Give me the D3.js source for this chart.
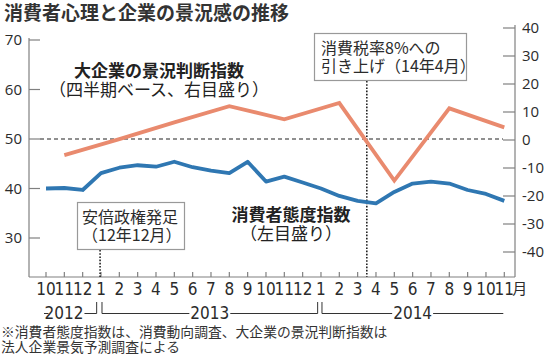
<!DOCTYPE html>
<html><head><meta charset="utf-8">
<script src="https://cdn.jsdelivr.net/npm/d3@7"></script>
<style>
body{margin:0;background:#fff;}
svg{display:block;}
.jp{font-family:"Noto Sans CJK JP","Noto Sans",sans-serif;}
.num{font-family:"Liberation Sans Narrow","DejaVu Sans Condensed","Roboto Condensed","Noto Sans",sans-serif;}
</style>
</head><body>
<svg id="c" width="550" height="359"></svg>
<script>
// ---- data ----
const monthLabels = ["10","11","12","1","2","3","4","5","6","7","8","9","10","11","12","1","2","3","4","5","6","7","8","9","10","11"];
const consumerIndex = [40.0,40.1,39.7,43.1,44.2,44.7,44.4,45.4,44.3,43.6,43.1,45.4,41.4,42.4,41.2,40.0,38.5,37.5,37.0,39.3,41.0,41.4,41.0,39.7,38.9,37.5];
const bsiMonths = [1,4,7,10,13,16,19,22,25];
const bsiValues = [-5.4,0.3,6.3,12.1,7.4,13.2,-14.5,11.3,4.5];
const leftTicks = [30,40,50,60,70];
const rightTicks = [-40,-30,-20,-10,0,10,20,30,40];
const years = [
  {label:"2012", from:0, to:2},
  {label:"2013", from:3, to:14},
  {label:"2014", from:15, to:25}
];
const title = "消費者心理と企業の景況感の推移";
const note = ["※消費者態度指数は、消費動向調査、大企業の景況判断指数は","法人企業景気予測調査による"];

// ---- layout ----
const svg = d3.select("#c");
const X0 = 29, X1 = 515, YB = 277;
const x = d3.scaleLinear().domain([0,25]).range([46,504.3]);
const yL = d3.scaleLinear().domain([30,70]).range([238,40]);
const yR = d3.scaleLinear().domain([-40,40]).range([252,28]);
const blue = "#2f77b2", orange = "#e98a6e", axisC = "#808080", txt = "#2b2b2b";

svg.append("text").attr("class","jp").attr("x",4).attr("y",20)
  .attr("font-size",19).attr("font-weight","bold").attr("fill","#333").text(title);

// axes lines
svg.append("line").attr("x1",X0).attr("x2",X0).attr("y1",38).attr("y2",YB).attr("stroke",axisC).attr("stroke-width",1.2);
svg.append("line").attr("x1",X1).attr("x2",X1).attr("y1",25).attr("y2",YB).attr("stroke",axisC).attr("stroke-width",1.2);
svg.append("line").attr("x1",X0).attr("x2",X1).attr("y1",YB).attr("y2",YB).attr("stroke",axisC).attr("stroke-width",1.2);

// left ticks
const gl = svg.append("g");
leftTicks.forEach(t=>{
  gl.append("line").attr("x1",X0).attr("x2",X0+11).attr("y1",yL(t)).attr("y2",yL(t)).attr("stroke",axisC).attr("stroke-width",1.2);
  gl.append("text").attr("x",22).attr("y",yL(t)).attr("dy","0.36em")
    .attr("text-anchor","end").attr("font-family","'Open Sans','Noto Sans',sans-serif").attr("font-size",15).attr("fill",txt).text(t);
});
// right ticks
rightTicks.forEach(t=>{
  gl.append("line").attr("x1",X1-12).attr("x2",X1).attr("y1",yR(t)).attr("y2",yR(t)).attr("stroke",axisC).attr("stroke-width",1.2);
  gl.append("text").attr("x",522).attr("y",yR(t)).attr("dy","0.36em")
    .attr("font-family","'Open Sans','Noto Sans',sans-serif").attr("font-size",15).attr("fill",txt).text(t);
});
// bottom ticks + month labels
monthLabels.forEach((m,i)=>{
  svg.append("line").attr("x1",x(i)).attr("x2",x(i)).attr("y1",YB-5).attr("y2",YB).attr("stroke",axisC).attr("stroke-width",1.2);
  svg.append("text").attr("class","num").attr("x",x(i)).attr("y",295).attr("text-anchor","middle")
    .attr("font-size",17).attr("fill",txt).text(m);
});
svg.append("text").attr("class","jp").attr("x",x(25)+8).attr("y",294).attr("font-size",15).attr("fill",txt).text("月");

// year brackets
const yb = 313.5, yt = 302;
function seg(x1,y1,x2,y2){svg.append("line").attr("x1",x1).attr("y1",y1).attr("x2",x2).attr("y2",y2).attr("stroke","#333").attr("stroke-width",1);}
years.forEach((yr,k)=>{
  const left = k===0 ? 44 : x(yr.from)+1;
  const right = k===0 ? x(yr.to)+14 : (k===years.length-1 ? x(yr.to)-1 : x(yr.to)+15);
  const cx = k===0 ? 64 : (left+right)/2;
  const t = svg.append("text").attr("class","num").attr("x",cx).attr("y",319).attr("text-anchor","middle")
    .attr("font-size",17).attr("fill",txt).text(yr.label);
  const w = t.node().getComputedTextLength();
  if(k===0){ seg(44,yb,48.5,yb); }
  else { seg(left,yt,left,yb); seg(left,yb,cx-w/2-1,yb); }
  seg(cx+w/2+1,yb,right,yb);
  if(k<years.length-1) seg(right,yt,right,yb);
});

// zero / 50 dashed line
svg.append("line").attr("x1",X0+11).attr("x2",X1-12).attr("y1",yL(50)).attr("y2",yL(50))
  .attr("stroke","#222").attr("stroke-width",1.1).attr("stroke-dasharray","4,3");

// event dotted lines + boxes
function dotted(xx,y1){svg.append("line").attr("x1",xx).attr("x2",xx).attr("y1",y1).attr("y2",YB)
  .attr("stroke","#222").attr("stroke-width",1.6).attr("stroke-dasharray","1.6,1.6");}
dotted(x(2.95),250);
dotted(x(17.5),81);

// lines
const lineL = d3.line().x((d,i)=>x(i)).y(d=>yL(d));
svg.append("path").datum(consumerIndex).attr("d",lineL).attr("fill","none")
  .attr("stroke",blue).attr("stroke-width",3.8).attr("stroke-linejoin","round").attr("stroke-linecap","butt");
const lineR = d3.line().x(d=>x(d[0])).y(d=>yR(d[1]));
svg.append("path").datum(bsiMonths.map((m,i)=>[m,bsiValues[i]])).attr("d",lineR).attr("fill","none")
  .attr("stroke",orange).attr("stroke-width",3.8).attr("stroke-linejoin","miter").attr("stroke-linecap","butt");

function multi(tx,ty,lh,lines,size,anchor,weights){
  const t = svg.append("text").attr("class","jp").attr("x",tx).attr("y",ty)
    .attr("font-size",size).attr("fill",txt).attr("text-anchor",anchor||"start");
  lines.forEach((s,i)=>t.append("tspan").attr("x",tx).attr("dy",i?lh:0)
    .attr("font-weight",weights?weights[i]:"normal").text(s));
  return t;
}
function box(x0,y0,w,h,lines,tx,ty,lh){
  svg.append("rect").attr("x",x0).attr("y",y0).attr("width",w).attr("height",h)
    .attr("fill","#fff").attr("stroke","#999").attr("stroke-width",1.2);
  multi(tx,ty,lh,lines,16);
}
box(77.5,202.5,107,47,["安倍政権発足","（12年12月）"],82,223,17.5);
box(314.5,33.5,152,47,["消費税率8%への","引き上げ（14年4月）"],321,54,17.5);

// series labels
multi(159,77,18.5,["大企業の景況判断指数","（四半期ベース、右目盛り）"],17,"middle",["bold","normal"]).attr("fill","#222");
multi(291,221,18.5,["消費者態度指数","（左目盛り）"],17,"middle",["bold","normal"]).attr("fill","#222");

// footnote
const fn = svg.append("text").attr("class","jp").attr("x",1).attr("y",337).attr("font-size",13.8).attr("fill","#333");
note.forEach((s,i)=>fn.append("tspan").attr("x",1).attr("dy",i?14.5:0).text(s));
</script>
</body></html>
